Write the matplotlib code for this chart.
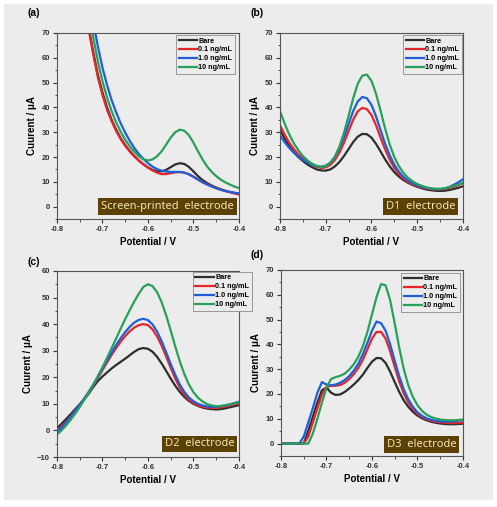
import numpy as np
import matplotlib
matplotlib.use("Agg")
import matplotlib.pyplot as plt
from matplotlib.patches import Rectangle
from matplotlib.ticker import MultipleLocator

# potential axis (V), same sampling for every curve
potential = np.linspace(-0.80, -0.40, 41)

labels = ["Bare", "0.1 ng/mL", "1.0 ng/mL", "10 ng/mL"]
colors = ["#2e2e2e", "#e5262b", "#1e5fd8", "#27a05a"]

# (a) screen-printed electrode, nan = off the top of the plot
nan = np.nan
spe_bare = [nan, nan, nan, nan, nan, 96, 83, 72, 62, 53, 46, 40, 35, 31, 27.6, 24.8, 22.4, 20.4, 18.6, 17.1,
            15.8, 14.8, 14.2, 14.2, 14.8, 15.9, 17.0, 17.5, 17.2, 16.0, 14.2, 12.3, 10.7, 9.5, 8.5, 7.7,
            7.0, 6.4, 5.9, 5.5, 5.2]
spe_01 = [nan, nan, nan, nan, nan, 95, 82, 71, 61, 52, 45, 39, 34.5, 30.5, 27.2, 24.5, 22.2, 20.2, 18.5, 17.0,
          15.7, 14.6, 13.7, 13.1, 13.1, 13.5, 13.8, 13.9, 13.7, 13.1, 12.1, 11.0, 9.9, 9.0, 8.2, 7.5,
          6.9, 6.3, 5.8, 5.3, 4.9]
spe_10 = [nan, nan, nan, nan, nan, nan, 97, 85, 74, 64.5, 56, 49, 43, 38, 33.6, 29.8, 26.5, 23.6, 21.2, 19.2,
          17.5, 16.1, 15.1, 14.5, 14.1, 14.0, 14.0, 14.0, 13.7, 13.0, 12.0, 10.9, 9.8, 8.9, 8.1, 7.4,
          6.8, 6.3, 5.9, 5.6, 5.3]
spe_100 = [nan, nan, nan, nan, nan, nan, 92, 80, 68, 58.5, 50.5, 44, 38.5, 34, 30.2, 27, 24.3, 22.1, 20.3, 19.1,
           18.6, 19.0, 20.3, 22.3, 25.0, 27.8, 30.0, 31.0, 30.6, 28.8, 25.8, 22.3, 19.0, 16.2, 14.0, 12.3,
           10.9, 9.8, 8.9, 8.1, 7.5]

# (b) D1 electrode
d1_bare = [31.0, 27.5, 24.5, 22.0, 20.0, 18.4, 17.0, 15.9, 15.0, 14.6, 14.5, 15.0, 16.2, 18.0, 20.4, 23.2,
           26.0, 28.2, 29.3, 29.2, 27.8, 25.3, 22.2, 19.0, 16.2, 13.9, 12.1, 10.7, 9.6, 8.7, 8.0, 7.4,
           6.9, 6.6, 6.4, 6.3, 6.4, 6.7, 7.1, 7.6, 8.2]
d1_01 = [32.8, 29.0, 25.8, 23.2, 21.1, 19.4, 18.0, 16.9, 16.0, 15.6, 15.8, 16.8, 18.8, 21.8, 25.8, 30.5,
         35.0, 38.4, 39.8, 39.3, 36.9, 32.8, 27.8, 23.0, 18.9, 15.6, 13.1, 11.3, 10.0, 9.0, 8.3, 7.7,
         7.3, 7.0, 6.9, 6.9, 7.1, 7.5, 8.0, 8.7, 9.5]
d1_10 = [28.7, 26.0, 23.7, 21.8, 20.2, 18.9, 17.8, 16.9, 16.3, 16.1, 16.5, 17.7, 20.0, 23.5, 28.0, 33.3,
         38.5, 42.4, 44.2, 43.7, 41.0, 36.4, 30.8, 25.3, 20.6, 16.9, 14.1, 12.0, 10.5, 9.4, 8.6, 8.0,
         7.5, 7.2, 7.0, 7.0, 7.3, 7.9, 8.8, 9.8, 11.0]
d1_100 = [38.5, 33.5, 29.2, 25.6, 22.7, 20.4, 18.6, 17.3, 16.4, 16.0, 16.3, 17.6, 20.2, 24.2, 29.8, 36.6,
          43.6, 49.5, 52.8, 53.2, 50.7, 45.5, 38.6, 31.4, 25.0, 20.0, 16.3, 13.6, 11.6, 10.2, 9.1, 8.4,
          7.8, 7.4, 7.2, 7.2, 7.4, 7.8, 8.3, 8.9, 9.6]

# (c) D2 electrode
d2_bare = [0.8, 2.5, 4.3, 6.1, 8.0, 9.9, 11.8, 13.9, 16.4, 18.6, 20.3, 21.8, 23.3, 24.6, 25.8, 27.0,
           28.3, 29.6, 30.6, 31.0, 30.7, 29.6, 27.7, 25.2, 22.4, 19.5, 16.8, 14.5, 12.6, 11.1, 10.0, 9.2,
           8.6, 8.2, 8.0, 7.9, 8.0, 8.3, 8.7, 9.1, 9.5]
d2_01 = [-0.3, 1.4, 3.3, 5.3, 7.4, 9.6, 11.9, 14.4, 17.0, 19.8, 22.7, 25.6, 28.4, 31.0, 33.4, 35.5,
         37.3, 38.7, 39.6, 40.0, 39.6, 38.0, 35.4, 31.9, 27.8, 23.5, 19.5, 16.1, 13.5, 11.6, 10.3, 9.4,
         8.9, 8.6, 8.5, 8.5, 8.7, 9.0, 9.4, 9.8, 10.3]
d2_10 = [-0.6, 1.0, 3.0, 5.1, 7.3, 9.6, 12.0, 14.6, 17.3, 20.2, 23.2, 26.3, 29.3, 32.1, 34.7, 37.0,
         39.0, 40.6, 41.6, 42.0, 41.5, 39.9, 37.2, 33.6, 29.4, 25.0, 20.9, 17.3, 14.5, 12.4, 11.0, 10.0,
         9.4, 9.0, 8.9, 8.9, 9.1, 9.4, 9.8, 10.3, 10.8]
d2_100 = [-1.5, 0.0, 1.9, 4.0, 6.3, 8.8, 11.5, 14.3, 17.3, 20.5, 23.8, 27.3, 30.9, 34.6, 38.3, 41.9,
          45.3, 48.5, 51.5, 54.0, 55.0, 54.3, 52.0, 48.3, 43.3, 37.6, 31.6, 26.0, 21.2, 17.3, 14.4, 12.3,
          10.9, 9.9, 9.4, 9.1, 9.2, 9.5, 9.8, 10.2, 10.6]

# (d) D3 electrode
d3_bare = [0, 0, 0, 0, 0, 0, 5.1, 10.8, 16.5, 21.5, 22.6, 20.5, 19.6, 19.8, 20.8, 22.2,
           23.8, 25.6, 27.8, 30.5, 33.0, 34.5, 34.4, 32.5, 29.0, 24.8, 20.8, 17.4, 14.8, 12.8, 11.3, 10.2,
           9.4, 8.8, 8.4, 8.1, 7.9, 7.8, 7.8, 7.9, 8.0]
d3_01 = [0, 0, 0, 0, 0, 0, 2.8, 8.5, 14.2, 19.8, 22.8, 23.3, 23.3, 23.6, 24.5, 26.0,
         28.0, 30.5, 33.8, 38.0, 42.3, 45.0, 45.0, 42.3, 37.2, 31.0, 25.0, 20.2, 16.5, 13.9, 12.0, 10.7,
         9.8, 9.2, 8.8, 8.6, 8.4, 8.3, 8.3, 8.4, 8.5]
d3_10 = [0, 0, 0, 0, 0, 2.8, 8.5, 14.3, 20.5, 24.8, 23.8, 23.5, 23.8, 24.5, 25.6, 27.2,
         29.4, 32.2, 36.0, 40.6, 45.5, 49.2, 48.5, 45.5, 40.0, 33.4, 27.1, 21.8, 17.8, 14.8, 12.6, 11.2,
         10.2, 9.6, 9.2, 9.0, 8.9, 8.9, 9.0, 9.2, 9.5]
d3_100 = [0, 0, 0, 0, 0, 0, 0, 4.0, 10.0, 16.5, 22.5, 26.0, 26.8, 27.3, 28.2, 29.8,
          32.0, 35.0, 39.2, 45.0, 52.0, 59.0, 64.3, 63.8, 57.8, 48.5, 38.6, 30.0, 23.5, 18.8, 15.5, 13.2,
          11.7, 10.7, 10.1, 9.7, 9.5, 9.4, 9.4, 9.5, 9.7]

bg = "#ececec"
plt.rcParams["font.family"] = ["Liberation Sans", "DejaVu Sans"]
plt.rcParams["font.weight"] = "bold"

fig = plt.figure(figsize=(4.97, 5.07), dpi=100, facecolor="white")
# light grey panel behind the whole figure, with a thin white border
fig.patches.append(Rectangle((4 / 497, 7 / 507), 489 / 497, 496 / 507, transform=fig.transFigure,
                             facecolor=bg, edgecolor="none", zorder=-1))

# one dict per panel: position, data, y limits, box text and legend anchor
panels = [
    dict(pos=[0.1147, 0.568, 0.366, 0.367], data=[spe_bare, spe_01, spe_10, spe_100], ylim=(-5, 70),
         tag="(a)", tagxy=(0.055, 0.968), box="Screen-printed  electrode", boxxy=(0.607, 0.067),
         leg=(0.978, 0.989)),
    dict(pos=[0.5634, 0.568, 0.368, 0.367], data=[d1_bare, d1_01, d1_10, d1_100], ylim=(-5, 70),
         tag="(b)", tagxy=(0.505, 0.968), box="D1  electrode", boxxy=(0.768, 0.067),
         leg=(0.995, 0.989)),
    dict(pos=[0.1147, 0.0986, 0.366, 0.367], data=[d2_bare, d2_01, d2_10, d2_100], ylim=(-10, 60),
         tag="(c)", tagxy=(0.055, 0.477), box="D2  electrode", boxxy=(0.783, 0.07),
         leg=(1.07, 0.995)),
    dict(pos=[0.5654, 0.1006, 0.366, 0.367], data=[d3_bare, d3_01, d3_10, d3_100], ylim=(-5, 70),
         tag="(d)", tagxy=(0.505, 0.492), box="D3  electrode", boxxy=(0.772, 0.062),
         leg=(0.984, 0.984)),
]

for p in panels:
    ax = fig.add_axes(p["pos"])
    ax.set_facecolor(bg)
    for ys, c, lab in zip(p["data"], colors, labels):
        ax.plot(potential, ys, color=c, lw=1.6, label=lab)
    ax.set_xlim(-0.8, -0.4)
    ax.set_ylim(*p["ylim"])
    ax.xaxis.set_major_locator(MultipleLocator(0.1))
    ax.xaxis.set_minor_locator(MultipleLocator(0.05))
    ax.yaxis.set_major_locator(MultipleLocator(10))
    ax.yaxis.set_minor_locator(MultipleLocator(5))
    ax.xaxis.set_major_formatter(plt.FuncFormatter(lambda v, pos: f"{v:.1f}"))
    ax.tick_params(which="major", direction="out", length=3, width=0.8, labelsize=5.5, pad=2,
                   colors="#333333")
    ax.tick_params(which="minor", direction="out", length=1.8, width=0.6, colors="#333333")
    for s in ax.spines.values():
        s.set_color("#555555")
        s.set_linewidth(0.8)
    ax.set_xlabel("Potential / V", fontsize=7, fontweight="bold", labelpad=3)
    ax.set_ylabel("Cuurent / μA", fontsize=7, fontweight="bold", labelpad=3)

    leg = ax.legend(loc="upper right", bbox_to_anchor=p["leg"], fontsize=5.2, frameon=True,
                    fancybox=False, handlelength=2.6, handletextpad=0.15, labelspacing=0.25,
                    borderpad=0.35, borderaxespad=0)
    leg.get_frame().set_facecolor(bg)
    leg.get_frame().set_edgecolor("#8a8a8a")
    leg.get_frame().set_linewidth(0.6)
    leg.get_frame().set_alpha(1)
    leg.set_zorder(5)

    # brown label box with the electrode name
    ax.text(p["boxxy"][0], p["boxxy"][1], p["box"], transform=ax.transAxes, ha="center", va="center",
            fontsize=8, fontweight="normal", family="Noto Sans", color="#f4e6b8",
            bbox=dict(boxstyle="square,pad=0.25", facecolor="#5c4105", edgecolor="none"))

    fig.text(p["tagxy"][0], p["tagxy"][1], p["tag"], fontsize=7.5, fontweight="bold")

fig.savefig("out.png", dpi=100, facecolor=fig.get_facecolor())
